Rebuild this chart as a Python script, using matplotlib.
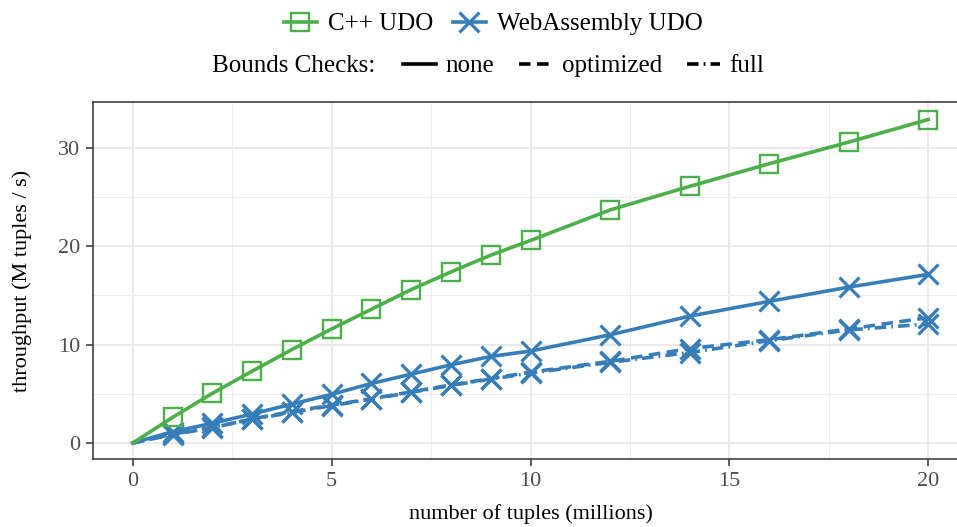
import matplotlib
matplotlib.use("Agg")
import matplotlib.pyplot as plt
from matplotlib.lines import Line2D

plt.rcParams["font.family"] = ["Liberation Serif", "DejaVu Serif"]

# throughput measurements, million tuples per second
tuples_millions = [0, 1, 2, 3, 4, 5, 6, 7, 8, 9, 10, 12, 14, 16, 18, 20]
cpp_none = [0, 2.6, 5.05, 7.3, 9.5, 11.6, 13.6, 15.6, 17.4, 19.1, 20.6, 23.7, 26.1, 28.4, 30.6, 32.9]
wasm_none = [0, 1.15, 2.0, 2.95, 3.95, 4.95, 6.05, 7.0, 7.95, 8.8, 9.35, 11.0, 12.9, 14.4, 15.85, 17.15]
wasm_optimized = [0, 0.85, 1.55, 2.45, 3.2, 3.85, 4.5, 5.2, 5.9, 6.55, 7.2, 8.3, 9.6, 10.5, 11.6, 12.75]
wasm_full = [0, 0.9, 1.6, 2.4, 3.1, 3.8, 4.45, 5.15, 5.85, 6.5, 7.1, 8.2, 9.2, 10.4, 11.5, 12.1]

x_ticks = [0, 5, 10, 15, 20]
y_ticks = [0, 10, 20, 30]

GREEN = "#4DAF4A"
BLUE = "#377EB8"
LW = 2.6
DASHED = (3.2, 1.8)
DOTDASH = (3.2, 1.4, 0.5, 1.4)

fig = plt.figure(figsize=(9.57, 5.27), dpi=100)
ax = fig.add_axes([93 / 957, 1 - 459.2 / 527, (968 - 93) / 957, (459.2 - 102.3) / 527])

marks = slice(1, None)
ax.plot(tuples_millions, wasm_full, color=BLUE, lw=LW, dashes=DOTDASH,
        marker="x", ms=15, mew=2.3, markevery=marks)
ax.plot(tuples_millions, wasm_optimized, color=BLUE, lw=LW, dashes=DASHED,
        marker="x", ms=15, mew=2.3, markevery=marks)
ax.plot(tuples_millions, wasm_none, color=BLUE, lw=LW, ls="-",
        marker="x", ms=15, mew=2.3, markevery=marks)
ax.plot(tuples_millions, cpp_none, color=GREEN, lw=LW, ls="-",
        marker="s", ms=13, mew=1.7, mfc="none", markevery=marks)

ax.set_xlim(-1, 21)
ax.set_ylim(-1.65, 34.65)
ax.set_xticks(x_ticks)
ax.set_yticks(y_ticks)
ax.set_xticks([2.5, 7.5, 12.5, 17.5], minor=True)
ax.set_yticks([5, 15, 25], minor=True)
ax.grid(True, which="major", color="#E8E8E8", lw=1.3)
ax.grid(True, which="minor", color="#EDEDED", lw=0.8)
ax.set_axisbelow(True)
for s in ax.spines.values():
    s.set_color("#333333")
    s.set_linewidth(1.1)
ax.tick_params(which="major", direction="out", length=5, width=1.1,
               color="#333333", labelcolor="#4D4D4D", labelsize=16, pad=4)
ax.tick_params(which="minor", length=0)

ax.set_xlabel("number of tuples (millions)", fontsize=16)
ax.xaxis.set_label_coords(0.5, -0.155)
ax.xaxis.label.set_va("center")
ax.set_ylabel("throughput (M tuples / s)", fontsize=16)
ax.yaxis.set_label_coords(-(93 - 22) / (968 - 93), 0.5)
ax.yaxis.label.set_va("center")

# series legend
series_handles = [
    Line2D([], [], color=GREEN, lw=LW, marker="s", ms=13, mew=1.7, mfc="none"),
    Line2D([], [], color=BLUE, lw=LW, marker="x", ms=15, mew=2.3),
]
fig.legend(series_handles, ["C++ UDO", "WebAssembly UDO"], loc="center left",
           bbox_to_anchor=(284 / 957, 1 - 24 / 527), ncol=2, frameon=False,
           fontsize=18, handlelength=1.3, handletextpad=0.45, columnspacing=0.8,
           borderpad=0, borderaxespad=0)

# bounds-check line style legend
fig.text(212 / 957, 1 - 66 / 527, "Bounds Checks:", fontsize=18, ha="left", va="center")
style_handles = [
    Line2D([], [], color="black", lw=LW, ls="-"),
    Line2D([], [], color="black", lw=LW, dashes=DASHED),
    Line2D([], [], color="black", lw=LW, dashes=DOTDASH),
]
fig.legend(style_handles, ["none", "optimized", "full"], loc="center left",
           bbox_to_anchor=(403 / 957, 1 - 66 / 527), ncol=3, frameon=False,
           fontsize=18, handlelength=1.3, handletextpad=0.4, columnspacing=1.0,
           borderpad=0, borderaxespad=0)

fig.savefig("out.png", dpi=100)
